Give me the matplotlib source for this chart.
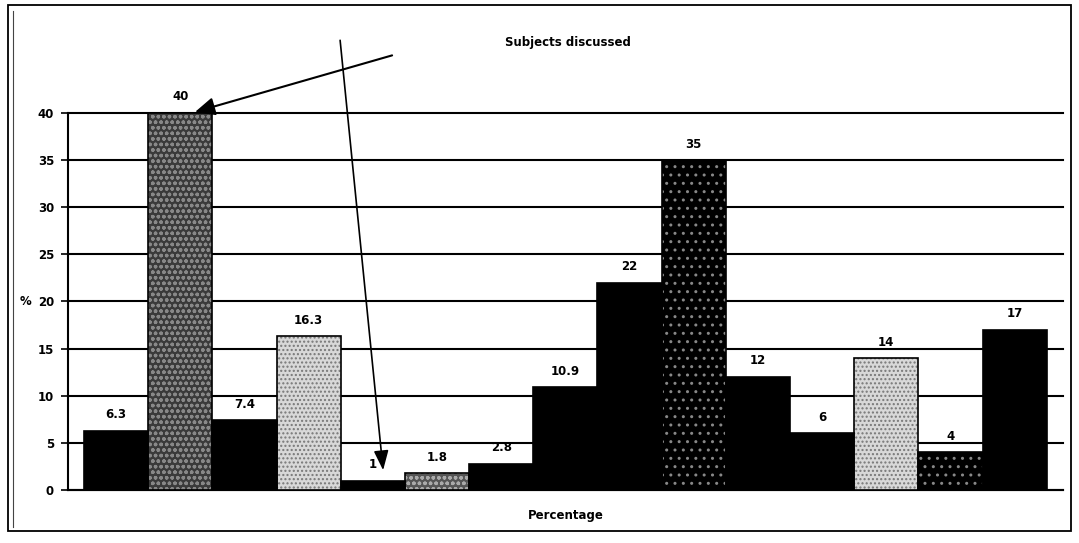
import matplotlib
matplotlib.use("Agg")
import matplotlib.pyplot as plt
from matplotlib.patches import Rectangle
from matplotlib.lines import Line2D

values = [6.3, 40, 7.4, 16.3, 1, 1.8, 2.8, 10.9, 22, 35, 12, 6, 14, 4, 17]
labels = ["6.3", "40", "7.4", "16.3", "1", "1.8", "2.8", "10.9", "22", "35", "12", "6", "14", "4", "17"]
yticks = [0, 5, 10, 15, 20, 25, 30, 35, 40]
title = "Subjects discussed"
xlabel = "Percentage"

# fill styles
styles = ["solid", "dark", "solid", "light", "solid", "mid", "solid", "solid",
          "solid", "dots", "solid", "solid", "light", "dots", "solid"]
style_map = {
    "solid": ("black", None, None),
    "dark": ("#3a3a3a", "ooo", "#888888"),
    "light": ("#d8d8d8", "....", "#777777"),
    "mid": ("#555555", "ooo", "#aaaaaa"),
    "dots": ("black", "..", "#888888"),
}

plt.rcParams['font.family'] = ['DejaVu Sans']
FS = 8.5
fig = plt.figure(figsize=(10.79, 5.43), dpi=100)
ax = fig.add_axes([0.063, 0.0976, 0.922, 0.6945])

x = list(range(len(values)))
for xi, v, s in zip(x, values, styles):
    fc, hatch, hc = style_map[s]
    ax.bar(xi, v, width=1.0, color=fc, edgecolor=hc if hatch else fc,
           hatch=hatch, linewidth=0, zorder=3)
    ax.bar(xi, v, width=1.0, fill=False, edgecolor="black", linewidth=1.2, zorder=4)
    ax.text(xi, v + 1.0, labels[xi], ha="center", va="bottom", fontsize=FS,
            fontweight="bold", zorder=5)

ax.set_xlim(-0.75, 14.75)
ax.set_ylim(0, 40)
ax.set_yticks(yticks)
ax.set_yticklabels([str(t) for t in yticks], fontsize=FS, fontweight="bold")
ax.tick_params(axis="y", direction="out", length=5, width=1.2, pad=5)
ax.set_xticks([])
ax.yaxis.grid(True, color="black", linewidth=1.5, zorder=1)
for gl in ax.get_ygridlines():
    gl.set_clip_on(False)
ax.set_axisbelow(True)
for sp in ["top", "right"]:
    ax.spines[sp].set_visible(False)
ax.spines["left"].set_linewidth(1.5)
ax.spines["bottom"].set_linewidth(1.5)

ax.text(-0.037, 20, "%", transform=ax.get_yaxis_transform(), ha="right", va="center",
        fontsize=FS, fontweight="bold")

fig.text(0.526, 0.922, title, ha="center", va="center", fontsize=FS, fontweight="bold")
fig.text(0.524, 0.051, xlabel, ha="center", va="center", fontsize=FS, fontweight="bold")

# arrows
ax.annotate("", xy=(1.23, 40.1), xytext=(4.3, 46.1), annotation_clip=False,
            arrowprops=dict(arrowstyle="-|>,head_length=1.2,head_width=0.55",
                            color="black", lw=1.5, shrinkA=0, shrinkB=0))
ax.annotate("", xy=(4.16, 2.1), xytext=(3.49, 47.7), annotation_clip=False,
            arrowprops=dict(arrowstyle="-|>,head_length=1.2,head_width=0.45",
                            color="black", lw=1.2, shrinkA=0, shrinkB=0))

# outer frame
fig.patches.append(Rectangle((0.007, 0.022), 0.986, 0.968, transform=fig.transFigure,
                             fill=False, edgecolor="black", linewidth=1.3))
fig.lines.append(Line2D([0.012, 0.012], [0.03, 0.98], transform=fig.transFigure,
                        color="#444444", linewidth=0.8))

fig.savefig("out.png", dpi=100)
